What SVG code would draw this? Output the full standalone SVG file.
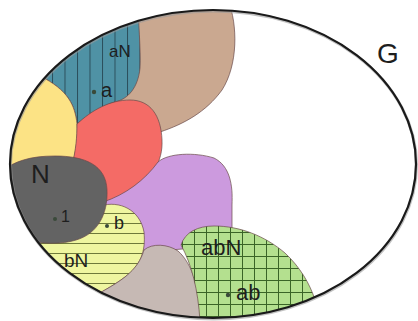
<svg xmlns="http://www.w3.org/2000/svg" width="418" height="321" viewBox="0 0 418 321">
<defs>
<clipPath id="clipG"><ellipse cx="213" cy="164" rx="203" ry="154"/></clipPath>
<pattern id="vlines" patternUnits="userSpaceOnUse" x="2" y="0" width="12.5" height="20"><rect width="12.5" height="20" fill="#4f92a5"/><line x1="0.5" y1="0" x2="0.5" y2="20" stroke="#2b4f5c" stroke-width="1"/></pattern>
<pattern id="hlines" patternUnits="userSpaceOnUse" x="0" y="3" width="20" height="10"><rect width="20" height="10" fill="#eff6a0"/><line x1="0" y1="0.5" x2="20" y2="0.5" stroke="#6f7a3a" stroke-width="1"/></pattern>
<pattern id="grid" patternUnits="userSpaceOnUse" x="2" y="4" width="12" height="12"><rect width="12" height="12" fill="#b4e08f"/><path d="M0.5 0V12M0 0.5H12" stroke="#3a6427" stroke-width="1"/></pattern>
</defs>
<style>
.reg{stroke:#6a4a4a;stroke-width:1;stroke-opacity:0.7}
.lbl{font-family:"Liberation Sans",Arial,sans-serif;fill:#1e1e1e}
.dot{fill:#3a4a3a}
</style>
<rect width="418" height="321" fill="#ffffff"/>
<g clip-path="url(#clipG)">
<g id="tan"><path class="reg" fill="#caa890" d="M110 0 L228 0 C238 25 238 65 222 90 C206 112 184 124 160 132 L110 110 Z"/></g>
<g id="aN"><path class="reg" fill="url(#vlines)" d="M30 0 L138 0 C138 20 141 50 140 68 C138 88 128 99 115 102 C104 105 94 111 77 124 C75 105 68 90 40 76 Z"/></g>
<g id="yellow"><path class="reg" fill="#fce385" d="M0 60 L40 76 C68 90 75 105 77 124 C78 140 76 152 72 165 L0 178 Z"/></g>
<g id="red"><path class="reg" fill="#f46b66" d="M77 124 C92 110 110 100 130 100 C150 100 161 115 162 140 C163 162 152 178 132 190 C122 196 112 200 103 202 L72 165 C76 150 77 136 77 124 Z"/></g>
<g id="purple"><path class="reg" fill="#cc9ade" d="M103 202 C125 195 145 180 158 162 C168 153 195 152 214 158 C230 166 233 185 232 205 L232 245 L145 252 Z"/></g>
<g id="bN"><path class="reg" fill="url(#hlines)" d="M0 232 L100 206 C120 200 140 210 144 232 C146 252 140 266 125 277 C112 287 100 292 90 300 L0 300 Z"/></g>
<g id="N"><path class="reg" fill="#636363" d="M0 172 C15 161 30 156 55 156 C85 156 106 165 107 190 C108 215 97 234 76 240 C56 246 35 243 0 236 Z"/></g>
<g id="beige"><path class="reg" fill="#c6b9b4" d="M144 250 C152 243 168 244 178 251 C192 263 200 290 202 321 L85 321 L88 300 C100 292 112 287 125 277 C136 268 141 260 144 250 Z"/></g>
<g id="abN"><path class="reg" fill="url(#grid)" d="M181 245 C185 232 198 226 214 226 C240 226 265 236 285 253 C300 267 310 284 315 300 L318 321 L200 321 C198 290 192 265 181 245 Z"/></g>
</g>
<g id="G">
<ellipse cx="213.5" cy="165" rx="203" ry="154" fill="none" stroke="#9a9a9a" stroke-width="3" stroke-opacity="0.6"/>
<ellipse cx="213" cy="164" rx="203" ry="154" fill="none" stroke="#1a1a1a" stroke-width="2.2"/>
</g>
<g id="labels">
<text class="lbl" x="109" y="57" font-size="17" fill="#333">aN</text>
<circle class="dot" cx="94" cy="92" r="2.2"/>
<text class="lbl" x="101" y="97" font-size="20">a</text>
<text class="lbl" x="31" y="183" font-size="26">N</text>
<circle class="dot" cx="55" cy="219" r="2"/>
<text class="lbl" x="61" y="222" font-size="16">1</text>
<circle class="dot" cx="107" cy="226" r="2"/>
<text class="lbl" x="114" y="229" font-size="18">b</text>
<text class="lbl" x="64" y="267" font-size="19">bN</text>
<text class="lbl" x="201" y="255" font-size="22">abN</text>
<circle class="dot" cx="228" cy="295" r="2.2"/>
<text class="lbl" x="236" y="300" font-size="22">ab</text>
<text class="lbl" x="377" y="63" font-size="28">G</text>
</g>
</svg>
